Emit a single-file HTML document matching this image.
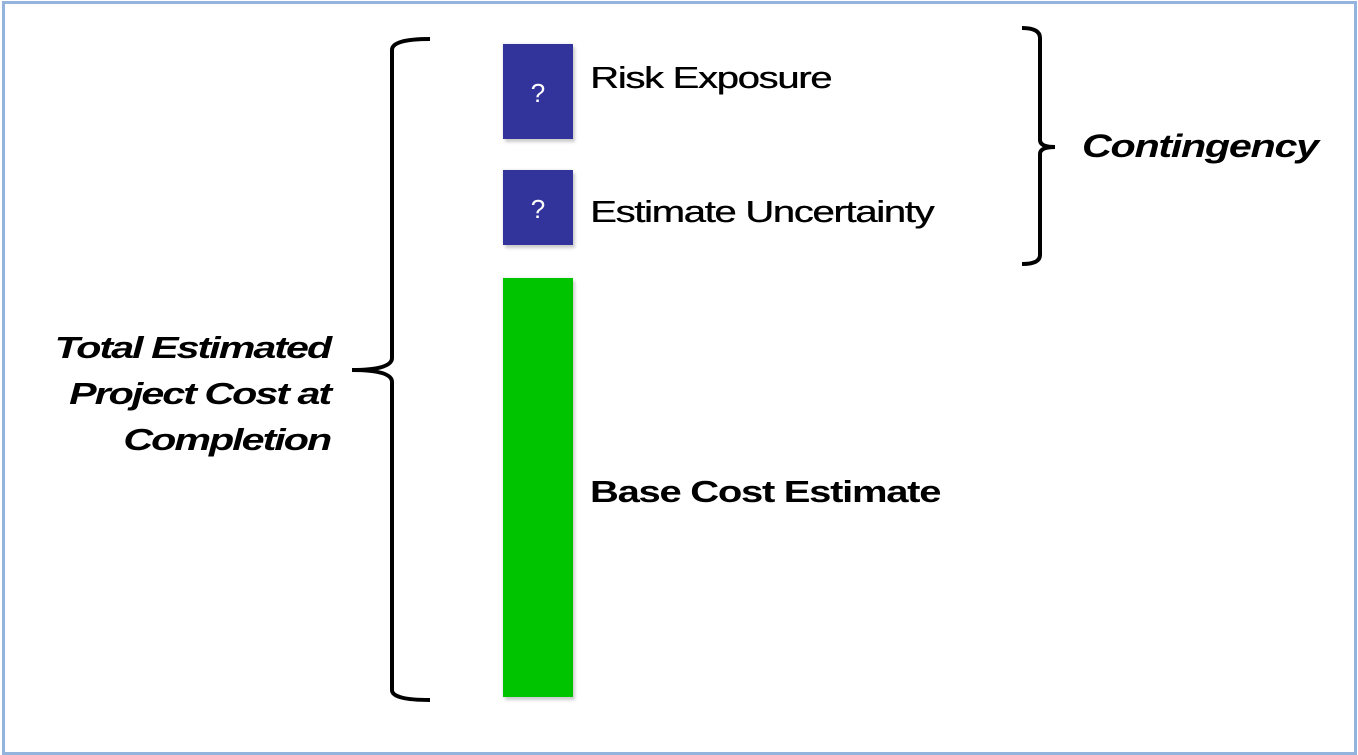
<!DOCTYPE html>
<html><head><meta charset="utf-8"><style>
html,body{margin:0;padding:0;background:#fff;}
body{width:1358px;height:755px;position:relative;overflow:hidden;font-family:"Liberation Sans",Arial,sans-serif;}
.frame{position:absolute;left:2px;top:1px;width:1349px;height:748px;border:3px solid #94b3dd;}
.t{position:absolute;color:#000;white-space:nowrap;line-height:1;transform:scaleX(1.29);transform-origin:left center;}
.box{position:absolute;left:503px;width:70px;background:#33339c;box-shadow:2px 3px 3px #ccc,-1px -1px 2px #eee;}
.q{position:absolute;width:100%;text-align:center;color:#fff;font-size:26px;}
</style></head><body>
<div class="frame"></div>
<svg width="1358" height="755" style="position:absolute;left:0;top:0">
<path d="M430,39 Q392,39 392,50 L392,358 Q392,370 352,370 Q392,370 392,382 L392,690 Q392,700 430,700" fill="none" stroke="#000" stroke-width="4"/>
<path d="M1022,28 Q1040,28 1040,38 L1040,140 Q1040,147 1055,147 Q1040,147 1040,154 L1040,255 Q1040,264 1022,264" fill="none" stroke="#000" stroke-width="4"/>
</svg>
<div class="box" style="top:44px;height:95px"><div class="q" style="top:34px">?</div></div>
<div class="box" style="top:170px;height:75px"><div class="q" style="top:24px">?</div></div>
<div class="box" style="top:278px;height:419px;background:#00c400"></div>
<div class="t" style="left:590px;top:62px;font-size:31px;letter-spacing:-1px;text-shadow:0.4px 0 0 #000">Risk Exposure</div>
<div class="t" style="left:590px;top:196px;font-size:31px;letter-spacing:-1px;text-shadow:0.4px 0 0 #000">Estimate Uncertainty</div>
<div class="t" style="left:590px;top:476px;font-size:31px;font-weight:bold;letter-spacing:-1px">Base Cost Estimate</div>
<div class="t" style="left:1082px;top:130px;font-size:32px;font-weight:bold;font-style:italic;letter-spacing:-1px">Contingency</div>
<div class="t" style="right:1028px;font-size:31px;font-weight:bold;font-style:italic;letter-spacing:-1.5px;text-align:right;line-height:46px;top:325px;transform:scaleX(1.33);transform-origin:right center">Total Estimated<br>Project Cost at<br>Completion</div>
</body></html>
